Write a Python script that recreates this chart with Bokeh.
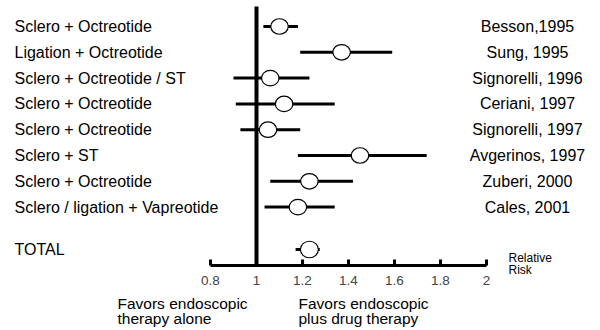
from bokeh.plotting import figure
from bokeh.models import Range1d, LinearAxis, FixedTicker
from bokeh.core.properties import value
from bokeh.embed import file_html
from bokeh.resources import INLINE

# ---- data ----
treatments = ["Sclero + Octreotide", "Ligation + Octreotide", "Sclero + Octreotide / ST",
              "Sclero + Octreotide", "Sclero + Octreotide", "Sclero + ST",
              "Sclero + Octreotide", "Sclero / ligation + Vapreotide"]
studies = ["Besson,1995", "Sung, 1995", "Signorelli, 1996", "Ceriani, 1997",
           "Signorelli, 1997", "Avgerinos, 1997", "Zuberi, 2000", "Cales, 2001"]
rr = [1.10, 1.37, 1.06, 1.12, 1.05, 1.45, 1.23, 1.18]
rr_lo = [1.03, 1.19, 0.90, 0.91, 0.93, 1.18, 1.06, 1.035]
rr_hi = [1.18, 1.59, 1.23, 1.34, 1.19, 1.74, 1.42, 1.34]
total_label = "TOTAL"
total_rr = 1.23
total_lo = 1.17
total_hi = 1.275
null_value = 1.0
tick_values = [0.8, 1.0, 1.2, 1.4, 1.6, 1.8, 2.0]
tick_labels = ["0.8", "1", "1.2", "1.4", "1.6", "1.8", "2"]
left_note = ["Favors endoscopic", "therapy alone"]
right_note = ["Favors endoscopic", "plus drug therapy"]
axis_note = ["Relative", "Risk"]

# ---- layout helpers (pixel <-> data) ----
W, H = 600, 330
px_per_x = 230.0
x0_px = 256.0
x_start = null_value - x0_px / px_per_x
x_end = null_value + (W - x0_px) / px_per_x
row0_px = 26.0
px_per_row = 25.8
y_top = -row0_px / px_per_row
y_bottom = (H - row0_px) / px_per_row


def xd(px):
    return x_start + px / px_per_x


def yd(px):
    return y_top + px / px_per_row


rows = list(range(len(treatments)))
total_row = yd(249)
axis_row = yd(265)

FONT = value("Liberation Sans")

p = figure(width=W, height=H, output_backend="svg", toolbar_location=None,
           x_range=Range1d(x_start, x_end), y_range=Range1d(y_bottom, y_top),
           x_axis_location=None, y_axis_location=None, min_border=0,
           background_fill_color="white", border_fill_color="white")
p.outline_line_color = None
p.grid.visible = False

# x axis inside the plot
ax = LinearAxis(ticker=FixedTicker(ticks=tick_values), bounds=(tick_values[0], tick_values[-1]))
ax.fixed_location = axis_row
ax.axis_line_width = 3
ax.major_tick_line_width = 3
ax.major_tick_in = 6
ax.major_tick_out = 0
ax.minor_tick_line_color = None
ax.major_label_overrides = dict(zip(tick_values, tick_labels))
ax.major_label_text_font = "Liberation Sans"
ax.major_label_text_font_size = "13.5px"
ax.major_label_standoff = 10
p.add_layout(ax, "below")

# null line
p.segment(x0=[null_value], y0=[yd(6)], x1=[null_value], y1=[axis_row],
          line_width=4, line_color="black")

# CIs
p.segment(x0=rr_lo, y0=rows, x1=rr_hi, y1=rows, line_width=3, line_color="black")
p.segment(x0=[total_lo], y0=[total_row], x1=[total_hi], y1=[total_row], line_width=3, line_color="black")

# point estimates
p.ellipse(x=rr, y=rows, width=17.5, height=15.5, width_units="screen", height_units="screen",
          fill_color="white", line_color="black", line_width=1.2)
p.ellipse(x=[total_rr], y=[total_row], width=18, height=16.5, width_units="screen", height_units="screen",
          fill_color="white", line_color="black", line_width=1.2)

# labels
p.text(x=[xd(14)] * len(treatments), y=rows, text=treatments, text_font=FONT,
       text_font_size="16px", text_align="left", text_baseline="middle", text_color="black")
p.text(x=[xd(14)], y=[total_row], text=[total_label], text_font=FONT,
       text_font_size="16px", text_align="left", text_baseline="middle", text_color="black")
p.text(x=[xd(527)] * len(studies), y=rows, text=studies, text_font=FONT,
       text_font_size="16px", text_align="center", text_baseline="middle", text_color="black")

p.text(x=[xd(117)] * 2, y=[yd(302.5), yd(318)], text=left_note, text_font=FONT,
       text_font_size="15.5px", text_align="left", text_baseline="middle", text_color="black")
p.text(x=[xd(298)] * 2, y=[yd(302.5), yd(318)], text=right_note, text_font=FONT,
       text_font_size="15.5px", text_align="left", text_baseline="middle", text_color="black")
p.text(x=[xd(508)] * 2, y=[yd(257), yd(269)], text=axis_note, text_font=FONT,
       text_font_size="12px", text_align="left", text_baseline="middle", text_color="black")

open("out.html", "w").write(file_html(p, INLINE))
